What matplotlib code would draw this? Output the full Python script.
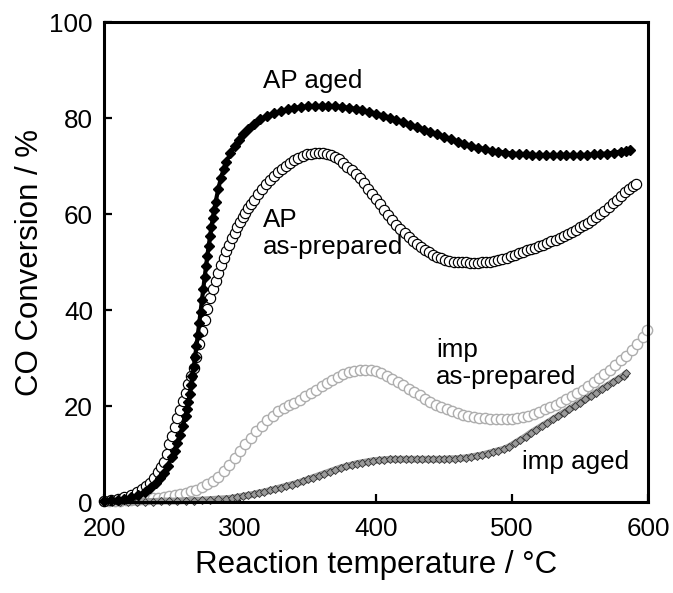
import matplotlib
matplotlib.use("Agg")
import matplotlib.pyplot as plt

plt.rcParams['font.family'] = ['Liberation Sans', 'DejaVu Sans']

# ---- data (temperature °C, CO conversion %) ----
ap_aged = [(200,0.3),(205,0.4),(210,0.5),(215,0.7),(220,1.0),(225,1.4),(230,2.1),(234,2.9),(238,3.9),(241,4.9),
           (244,6.1),(247,7.6),(250,9.3),(252,10.7),(254,12.2),(256,13.9),(258,15.8),(260,18.0),(261,19.3),(262,20.8),
           (263,22.5),(264,24.3),(265,26.2),(266,28.2),(267,30.3),(268,32.5),(269,34.8),(270,37.2),(271,39.6),(272,42.0),
           (273,44.4),(274,46.8),(275,49.1),(276,51.3),(277,53.4),(278,55.4),(279,57.3),(280,59.1),(281,60.8),(282,62.4),
           (284,65.2),(286,67.5),(288,69.4),(290,70.9),(293,72.7),(296,74.2),(299,75.5),(302,76.6),(306,77.8),(310,78.8),
           (315,79.7),(320,80.4),(325,81.0),(330,81.4),(335,81.8),(340,82.1),(345,82.3),(350,82.4),(355,82.5),(360,82.5),
           (365,82.5),(370,82.4),(375,82.3),(380,82.1),(385,81.9),(390,81.6),(395,81.3),(400,80.9),(405,80.5),(410,80.1),
           (415,79.6),(420,79.1),(425,78.6),(430,78.1),(435,77.6),(440,77.1),(445,76.6),(450,76.1),(455,75.6),(460,75.1),
           (465,74.6),(470,74.2),(475,73.8),(480,73.5),(485,73.2),(490,73.0),(495,72.8),(500,72.6),(505,72.5),(510,72.4),
           (515,72.3),(520,72.3),(525,72.2),(530,72.2),(535,72.2),(540,72.2),(545,72.2),(550,72.3),(555,72.3),(560,72.4),
           (565,72.5),(570,72.6),(575,72.8),(580,73.0),(584,73.2),(587,73.3)]

ap_prep = [(200,0.3),(205,0.5),(210,0.7),(215,1.0),(220,1.5),(224,2.0),(228,2.7),(231,3.3),(234,4.0),(237,5.0),
           (240,6.2),(242,7.2),(244,8.4),(246,9.9),(248,12.0),(250,13.8),(252,15.6),(254,17.4),(256,19.2),(258,21.0),
           (260,22.8),(262,24.6),(264,26.3),(266,28.0),(268,30.2),(270,33.0),(272,35.6),(274,38.0),(276,40.3),(278,42.4),
           (280,44.3),(282,46.1),(284,47.8),(286,49.4),(288,50.9),(290,52.3),(292,53.6),(294,54.9),(296,56.1),(298,57.2),
           (300,58.3),(302,59.3),(304,60.3),(306,61.2),(308,62.1),(310,62.9),(313,64.1),(316,65.2),(319,66.2),(322,67.1),
           (325,67.9),(328,68.7),(331,69.4),(334,70.1),(337,70.7),(340,71.2),(343,71.7),(346,72.1),(349,72.4),(352,72.6),
           (355,72.7),(358,72.7),(361,72.7),(364,72.5),(367,72.3),(370,71.9),(373,71.4),(376,70.7),(379,69.8),(382,69.1),
           (385,68.3),(388,67.4),(391,66.4),(394,65.3),(397,64.2),(400,63.1),(403,62.0),(406,60.9),(409,59.8),(412,58.8),
           (415,57.8),(418,56.9),(421,56.0),(424,55.2),(427,54.4),(430,53.7),(433,53.1),(436,52.5),(439,52.0),(442,51.5),
           (445,51.1),(448,50.8),(451,50.5),(454,50.3),(457,50.1),(460,50.0),(463,49.9),(466,49.9),(469,49.8),(472,49.8),
           (475,49.8),(478,49.9),(481,50.0),(484,50.1),(487,50.3),(490,50.5),(493,50.7),(496,50.9),(499,51.2),(502,51.5),
           (505,51.8),(508,52.1),(511,52.4),(514,52.7),(517,53.0),(520,53.3),(523,53.6),(526,53.9),(529,54.3),(532,54.6),
           (535,55.0),(538,55.4),(541,55.8),(544,56.2),(547,56.7),(550,57.2),(553,57.7),(556,58.2),(559,58.8),(562,59.4),
           (565,60.0),(568,60.7),(571,61.4),(574,62.2),(577,63.0),(580,63.8),(583,64.6),(586,65.3),(589,65.9),(591,66.3)]

imp_prep = [(200,0.2),(204,0.2),(208,0.3),(212,0.3),(216,0.4),(220,0.4),(224,0.5),(228,0.6),(232,0.7),(236,0.8),
            (240,0.9),(244,1.0),(248,1.2),(252,1.4),(256,1.6),(260,1.9),(264,2.2),(268,2.6),(272,3.1),(276,3.7),
            (280,4.4),(284,5.3),(288,6.4),(292,7.7),(296,9.1),(300,10.6),(304,12.0),(308,13.4),(312,14.7),(316,15.9),
            (320,17.0),(324,18.0),(328,18.9),(332,19.6),(336,20.2),(340,20.7),(344,21.3),(348,22.0),(352,22.7),(356,23.4),
            (360,24.1),(364,24.8),(368,25.5),(372,26.1),(376,26.6),(380,27.0),(384,27.3),(388,27.5),(392,27.6),(396,27.5),
            (400,27.2),(404,26.8),(408,26.3),(412,25.7),(416,25.0),(420,24.3),(424,23.6),(428,22.9),(432,22.2),(436,21.5),
            (440,20.9),(444,20.3),(448,19.8),(452,19.3),(456,18.9),(460,18.5),(464,18.2),(468,17.9),(472,17.7),(476,17.5),
            (480,17.4),(484,17.3),(488,17.2),(492,17.2),(496,17.2),(500,17.3),(504,17.5),(508,17.7),(512,18.0),(516,18.4),
            (520,18.8),(524,19.3),(528,19.8),(532,20.3),(536,20.9),(540,21.5),(544,22.1),(548,22.7),(552,23.4),(556,24.2),
            (560,25.0),(564,25.8),(568,26.7),(572,27.6),(576,28.5),(580,29.5),(584,30.5),(588,31.6),(592,32.9),(596,34.4),
            (599,35.8)]

imp_aged = [(200,0.0),(206,0.0),(212,0.0),(218,0.0),(224,0.1),(230,0.1),(236,0.1),(242,0.2),(248,0.2),(254,0.2),
            (260,0.3),(266,0.3),(272,0.4),(278,0.5),(284,0.6),(290,0.7),(294,0.8),(298,1.0),(302,1.2),(306,1.4),
            (310,1.6),(314,1.9),(318,2.1),(322,2.4),(326,2.7),(330,3.0),(334,3.3),(338,3.6),(342,3.9),(346,4.3),
            (350,4.7),(354,5.1),(358,5.5),(362,5.9),(366,6.3),(370,6.7),(374,7.1),(378,7.4),(382,7.7),(386,8.0),
            (390,8.2),(394,8.4),(398,8.6),(402,8.7),(406,8.8),(410,8.9),(414,8.9),(418,8.9),(422,8.9),(426,8.9),
            (430,8.9),(434,8.9),(438,8.9),(442,8.9),(446,8.9),(450,8.9),(454,9.0),(458,9.0),(462,9.1),(466,9.2),
            (470,9.4),(474,9.6),(478,9.8),(482,10.1),(486,10.4),(490,10.7),(494,11.0),(498,11.5),(502,12.2),(506,12.9),
            (510,13.6),(514,14.4),(518,15.1),(522,15.8),(526,16.5),(530,17.2),(534,17.9),(538,18.6),(542,19.3),(546,20.0),
            (550,20.7),(554,21.4),(558,22.1),(562,22.8),(566,23.5),(570,24.2),(574,24.9),(578,25.6),(582,26.3),(584,26.8)]

x_ticks = [200, 300, 400, 500, 600]
y_ticks = [0, 20, 40, 60, 80, 100]
x_label = "Reaction temperature / °C"
y_label = "CO Conversion / %"
labels = ["AP aged", "AP\nas-prepared", "imp\nas-prepared", "imp aged"]


def xy(series):
    return [p[0] for p in series], [p[1] for p in series]


W, H = 673, 593
fig = plt.figure(figsize=(W / 100, H / 100), dpi=100)
ax = fig.add_axes([104 / W, 1 - 502 / H, 544 / W, 480 / H])

# imp as-prepared: light grey open circles
x, y = xy(imp_prep)
ax.plot(x, y, linestyle='none', marker='o', markersize=7.4, markerfacecolor='white',
        markeredgecolor='#adadad', markeredgewidth=1.0, clip_on=False, zorder=2)
# imp aged: grey band of small diamonds with dark edges
x, y = xy(imp_aged)
ax.plot(x, y, color='#9c9c9c', linewidth=5.0, solid_capstyle='round', clip_on=False, zorder=3)
ax.plot(x, y, linestyle='none', marker='D', markersize=4.4,
        markerfacecolor='#9a9a9a', markeredgecolor='#333333', markeredgewidth=0.6,
        clip_on=False, zorder=3)
# AP as-prepared: black open circles
x, y = xy(ap_prep)
ax.plot(x, y, linestyle='none', marker='o', markersize=7.4, markerfacecolor='white',
        markeredgecolor='black', markeredgewidth=0.85, clip_on=False, zorder=4)
# AP aged: black diamonds with line
x, y = xy(ap_aged)
ax.plot(x, y, color='black', linewidth=3.0, marker='D', markersize=5.2,
        markerfacecolor='black', markeredgecolor='black', clip_on=False, zorder=5)

ax.set_xlim(200, 600)
ax.set_ylim(0, 100)
ax.set_xticks(x_ticks)
ax.set_yticks(y_ticks)
ax.tick_params(axis='both', direction='in', length=5.5, width=1.6, labelsize=18.7,
               top=False, right=False)
ax.tick_params(axis='x', pad=11)
ax.tick_params(axis='y', pad=8)
for s in ax.spines.values():
    s.set_linewidth(2.2)
    s.set_zorder(6)

ax.set_xlabel(x_label, fontsize=22.5, labelpad=6)
ax.set_ylabel(y_label, fontsize=22.5, labelpad=3)

fs = 18.7
ax.text(317, 87.8, labels[0], fontsize=fs, ha='left', va='center')
ax.text(317, 56.0, labels[1], fontsize=fs, ha='left', va='center', linespacing=1.15)
ax.text(444, 28.8, labels[2], fontsize=fs, ha='left', va='center', linespacing=1.15)
ax.text(507, 8.4, labels[3], fontsize=fs, ha='left', va='center')

fig.savefig("out.png", dpi=100)
